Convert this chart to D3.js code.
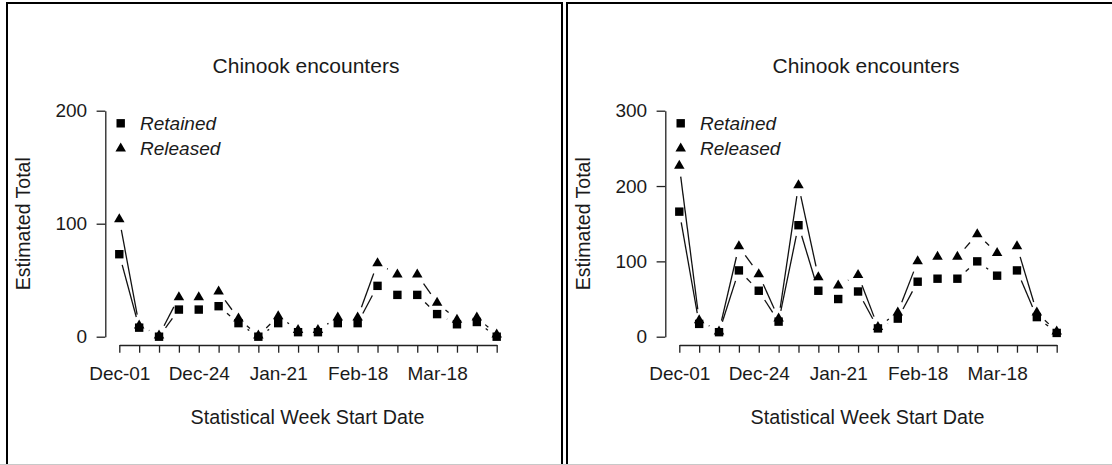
<!DOCTYPE html>
<html>
<head>
<meta charset="utf-8">
<script src="https://cdn.jsdelivr.net/npm/d3@7"></script>
<style>
  html, body { margin: 0; padding: 0; background: #fff; }
  svg { display: block; }
  text { font-family: "Liberation Sans", Arial, sans-serif; fill: #1a1a1a; }
</style>
</head>
<body>
<svg id="chart" width="1112" height="465"></svg>
<script>
// ---- Data ----
const weeks = d3.range(20);                       // 20 statistical weeks
const tickLabels = ["Dec-01", "Dec-24", "Jan-21", "Feb-18", "Mar-18"];
const tickLabelWeeks = [0, 4, 8, 12, 16];
const seriesNames = ["Retained", "Released"];

const leftRetained = [73, 8, 0, 24, 24, 27, 12, 0, 12, 4, 4, 12, 12, 45, 37, 37, 20, 11, 13, 0];
const leftReleased = [104, 10, 1, 35, 35, 40, 16, 1, 18, 6, 6, 17, 17, 65, 55, 55, 30, 15, 17, 2];
const leftYTicks = [0, 100, 200];

const rightRetained = [166, 17, 6, 88, 61, 20, 148, 61, 50, 60, 11, 24, 73, 77, 77, 100, 81, 88, 26, 5];
const rightReleased = [227, 22, 7, 120, 83, 24, 201, 79, 68, 82, 13, 32, 100, 106, 106, 136, 111, 120, 32, 7];
const rightYTicks = [0, 100, 200, 300];

const titleText = "Chinook encounters";
const yTitle = "Estimated Total";
const xTitle = "Statistical Week Start Date";

// ---- Drawing ----
const svg = d3.select("#chart");
svg.append("rect").attr("width", 1112).attr("height", 465).attr("fill", "#fff");

// panel frames
svg.append("path").attr("d", "M7,470V3H562V470").attr("fill", "none").attr("stroke", "#000").attr("stroke-width", 2);
svg.append("path").attr("d", "M567,470V3H1116").attr("fill", "none").attr("stroke", "#000").attr("stroke-width", 2);
svg.append("line").attr("x1", 0).attr("x2", 1112).attr("y1", 464.5).attr("y2", 464.5)
   .attr("stroke", "#c8c8c8").attr("stroke-width", 1);

const GAP = 11;
const FS = 19;

function trianglePath(cx, cy, w, h) {
  // centroid-centred triangle (like R pch 17)
  const top = cy - h * 2 / 3, bot = cy + h / 3;
  return `M${cx},${top}L${cx + w / 2},${bot}L${cx - w / 2},${bot}Z`;
}

function drawPanel(offsetX, retained, released, yTicks) {
  const g = svg.append("g").attr("transform", `translate(${offsetX},0)`);
  const x = d3.scaleLinear().domain([0, 19]).range([119.3, 496.7]);
  const y = d3.scaleLinear().domain([0, d3.max(yTicks)]).range([336.7, 110.7]);

  // y axis
  const yAx = g.append("g").attr("transform", "translate(105.3,0)")
    .call(d3.axisLeft(y).tickValues(yTicks).tickSize(8.7).tickSizeOuter(0).tickPadding(9.5));
  yAx.selectAll("path,line").attr("stroke", "#222").attr("stroke-width", 1.3);
  yAx.selectAll("text").attr("font-size", FS).attr("font-family", null).attr("fill", "#1a1a1a");

  // x axis
  const xAx = g.append("g").attr("transform", "translate(0,345)")
    .call(d3.axisBottom(x).tickValues(weeks).tickSize(7.7).tickSizeOuter(0).tickPadding(14)
      .tickFormat(i => { const k = tickLabelWeeks.indexOf(i); return k >= 0 ? tickLabels[k] : ""; }));
  xAx.selectAll("path,line").attr("stroke", "#222").attr("stroke-width", 1.3);
  xAx.selectAll("text").attr("font-size", FS).attr("font-family", null).attr("fill", "#1a1a1a");

  // titles
  g.append("text").attr("x", 306).attr("y", 73).attr("text-anchor", "middle")
    .attr("font-size", 21).text(titleText);
  g.append("text").attr("transform", "translate(30,223.7) rotate(-90)")
    .attr("text-anchor", "middle").attr("font-size", 19.5).text(yTitle);
  g.append("text").attr("x", 307.5).attr("y", 423.5).attr("text-anchor", "middle")
    .attr("font-size", 19.7).text(xTitle);

  // type "b" lines (segments with gaps around points)
  function gappedLines(vals) {
    const segs = [];
    for (let i = 0; i < vals.length - 1; i++) {
      const x0 = x(weeks[i]), y0 = y(vals[i]), x1 = x(weeks[i + 1]), y1 = y(vals[i + 1]);
      const dx = x1 - x0, dy = y1 - y0, len = Math.hypot(dx, dy);
      if (len > 2 * GAP) {
        const ux = dx / len, uy = dy / len;
        segs.push({ x1: x0 + ux * GAP, y1: y0 + uy * GAP, x2: x1 - ux * GAP, y2: y1 - uy * GAP });
      }
    }
    return segs;
  }
  [retained, released].forEach(vals => {
    g.append("g").selectAll("line").data(gappedLines(vals)).join("line")
      .attr("x1", d => d.x1).attr("y1", d => d.y1).attr("x2", d => d.x2).attr("y2", d => d.y2)
      .attr("stroke", "#111").attr("stroke-width", 1.3);
  });

  // points
  g.append("g").selectAll("rect").data(weeks).join("rect")
    .attr("x", i => x(i) - 4.2).attr("y", i => y(retained[i]) - 4.2)
    .attr("width", 8.4).attr("height", 8.4).attr("fill", "#000");
  g.append("g").selectAll("path").data(weeks).join("path")
    .attr("d", i => trianglePath(x(i), y(released[i]), 10.5, 9)).attr("fill", "#000");

  // legend
  const leg = g.append("g");
  leg.append("rect").attr("x", 120.7 - 4.2).attr("y", 123.3 - 4.2).attr("width", 8.4).attr("height", 8.4).attr("fill", "#000");
  leg.append("path").attr("d", trianglePath(120.7, 148.5, 10.5, 9)).attr("fill", "#000");
  leg.append("text").attr("x", 140).attr("y", 130).attr("font-size", FS).attr("font-style", "italic").text(seriesNames[0]);
  leg.append("text").attr("x", 140).attr("y", 154.5).attr("font-size", FS).attr("font-style", "italic").text(seriesNames[1]);
}

drawPanel(0, leftRetained, leftReleased, leftYTicks);
drawPanel(560, rightRetained, rightReleased, rightYTicks);
</script>
</body>
</html>
